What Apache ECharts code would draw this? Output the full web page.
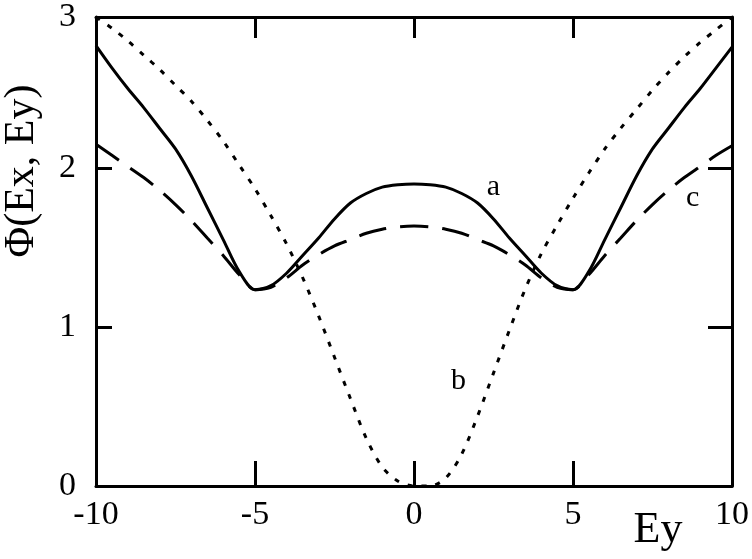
<!DOCTYPE html>
<html>
<head>
<meta charset="utf-8">
<script src="https://cdn.jsdelivr.net/npm/echarts@6/dist/echarts.min.js"></script>
<style>
html,body{margin:0;padding:0;background:#fff;}
#chart{width:752px;height:559px;}
</style>
</head>
<body>
<div id="chart"></div>
<script>
// Ey values (x axis)
var ey = [-10,-9.5,-9,-8.5,-8,-7.5,-7,-6.5,-6,-5.5,-5,-4.5,-4,-3.5,-3,-2.5,-2,-1.5,-1,-0.5,0,
          0.5,1,1.5,2,2.5,3,3.5,4,4.5,5,5.5,6,6.5,7,7.5,8,8.5,9,9.5,10];
// curve a (solid)
var curveA = [2.77,2.63,2.50,2.38,2.25,2.12,1.95,1.75,1.55,1.35,1.235,1.26,1.34,1.45,1.56,1.68,1.78,1.84,1.88,1.895,1.90,
              1.895,1.88,1.84,1.78,1.68,1.56,1.45,1.34,1.26,1.235,1.35,1.55,1.75,1.95,2.12,2.25,2.38,2.50,2.63,2.76];
// curve b (dotted)
var curveB = [2.95,2.88,2.80,2.71,2.62,2.52,2.42,2.30,2.17,2.02,1.87,1.70,1.52,1.31,1.07,0.81,0.55,0.30,0.12,0.03,0,
              0,0.05,0.20,0.44,0.71,0.98,1.24,1.46,1.64,1.81,1.97,2.12,2.25,2.37,2.49,2.60,2.70,2.79,2.87,2.95];
// curve c (dashed)
var curveC = [2.15,2.08,2.01,1.94,1.86,1.77,1.67,1.56,1.45,1.33,1.235,1.25,1.31,1.39,1.455,1.51,1.55,1.59,1.615,1.63,1.635,
              1.63,1.615,1.59,1.55,1.51,1.455,1.39,1.31,1.25,1.235,1.33,1.45,1.56,1.67,1.77,1.86,1.94,2.01,2.08,2.14];
var xTickLabels = {'-10':'-10','-5':'-5','0':'0','5':'5','10':'10'};
var yTickLabels = ['0','1','2','3'];
var curveLabels = [
  {name:'a', coord:[2.5,1.88]},
  {name:'b', coord:[1.4,0.66]},
  {name:'c', coord:[8.76,1.81]}
];

function pairs(ys){ return ey.map(function(x,i){ return [x, ys[i]]; }); }

var serif = 'Liberation Serif';
var chart = echarts.init(document.getElementById('chart'), null, {renderer:'canvas'});
var axisLineStyle = {color:'#000', width:3};
function markLabel(i){
  return {symbol:'circle', symbolSize:0, silent:true,
    label:{show:true, position:'inside', color:'#000', fontFamily:serif, fontSize:30, formatter:'{b}'},
    data:[{name:curveLabels[i].name, coord:curveLabels[i].coord}]};
}
var option = {
  animation:false,
  backgroundColor:'#fff',
  grid:{left:96, right:19, top:11, bottom:73, containLabel:false},
  xAxis:[{
    type:'value', min:-10, max:10, interval:5, position:'bottom',
    axisLine:{onZero:false, lineStyle:axisLineStyle},
    axisTick:{inside:true, length:25, lineStyle:{color:'#000', width:3}},
    splitLine:{show:false},
    axisLabel:{color:'#000', fontFamily:serif, fontSize:34, margin:12,
      formatter:function(v){ return xTickLabels[String(v)]; }}
  },{
    type:'value', min:-10, max:10, interval:5, position:'top',
    axisLine:{onZero:false, lineStyle:axisLineStyle},
    axisTick:{inside:true, length:21, lineStyle:{color:'#000', width:3}},
    splitLine:{show:false}, axisLabel:{show:false}
  }],
  yAxis:[{
    type:'value', min:0, max:2.95, interval:1, position:'left',
    axisLine:{onZero:false, lineStyle:axisLineStyle},
    axisTick:{inside:true, length:16, lineStyle:{color:'#000', width:3}},
    splitLine:{show:false},
    axisLabel:{color:'#000', fontFamily:serif, fontSize:34, margin:20, showMaxLabel:true,
      formatter:function(v){ return yTickLabels[Math.round(v)]; }}
  },{
    type:'value', min:0, max:2.95, interval:1, position:'right',
    axisLine:{onZero:false, lineStyle:axisLineStyle},
    axisTick:{inside:true, length:24, lineStyle:{color:'#000', width:3}},
    splitLine:{show:false}, axisLabel:{show:false}
  }],
  series:[{
    type:'line', name:'a', data:pairs(curveA), smooth:0.3, showSymbol:false,
    lineStyle:{color:'#000', width:3, type:'solid'},
    markPoint:markLabel(0)
  },{
    type:'line', name:'b', data:pairs(curveB), smooth:0.3, showSymbol:false,
    lineStyle:{color:'#000', width:3, type:[5,9]},
    markPoint:markLabel(1)
  },{
    type:'line', name:'c', data:pairs(curveC), smooth:0.3, showSymbol:false,
    lineStyle:{color:'#000', width:3, type:[28,14]},
    markPoint:markLabel(2)
  }],
  graphic:[{
    type:'text', x:22, y:171, rotation:Math.PI/2,
    style:{text:'Φ(Ex, Ey)', fill:'#000', font:'42px "Liberation Serif"', align:'center', verticalAlign:'middle'}
  },{
    type:'text', x:658, y:530,
    style:{text:'Ey', fill:'#000', font:'44px "Liberation Serif"', align:'center', verticalAlign:'middle'}
  }]
};
chart.setOption(option);
</script>
</body>
</html>
